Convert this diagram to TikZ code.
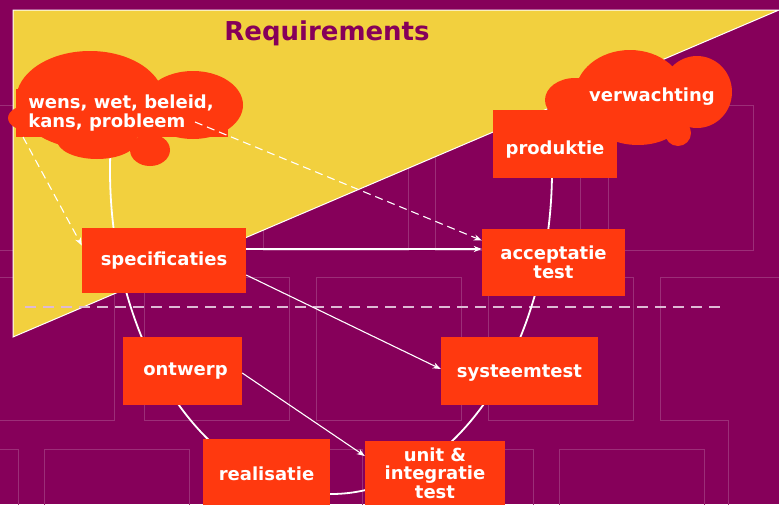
\documentclass[tikz,border=0pt]{standalone}
\usepackage{fontspec}
\setmainfont{DejaVu Sans}
\usetikzlibrary{arrows.meta}
\definecolor{bgp}{RGB}{134,0,90}
\definecolor{yel}{RGB}{242,208,62}
\definecolor{orng}{RGB}{255,57,15}
\definecolor{faint}{RGB}{156,46,120}
\definecolor{dashc}{RGB}{222,185,212}
\newcommand\boxfont{\bfseries\fontsize{18}{19.5}\selectfont}
\newcommand\lowertext[2]{\raisebox{-#1}[\height][\depth]{#2}}
\tikzset{
  stepbox/.style={fill=orng, text=white, font=\boxfont, inner sep=0pt, align=center},
  bgrect/.style={draw=faint, line width=0.9pt},
  flow/.style={draw=white, line width=1.1pt, -{Stealth[length=8pt,width=6pt,inset=2.5pt]}},
  dflow/.style={flow, dash pattern=on 8pt off 5pt},
  loopline/.style={draw=white, line width=1.8pt},
  cloudtext/.style={text=white, font=\boxfont, inner sep=0pt, align=left},
}
\begin{document}
\begin{tikzpicture}[x=1pt,y=-1pt]
\useasboundingbox (0,0) rectangle (779,504);
\fill[bgp] (0,0) rectangle (779,504);
% faint background rectangles
\foreach \a in {-82,91,263,435,608,780} \draw[bgrect] (\a,105) rectangle (\a+145,250);
\foreach \a in {-31,144,316,488} \draw[bgrect] (\a,277) rectangle (\a+145,420);
\draw[bgrect] (800,277) -- (660,277) -- (660,420) -- (728,420) -- (728,520);
\foreach \a in {-127,44,217,388,559} \draw[bgrect] (\a,449) rectangle (\a+145,594);
% requirements triangle
\fill[yel, draw=white, line width=1pt] (13,10) -- (779,10) -- (13,337) -- cycle;
\node[text=bgp, font=\bfseries\fontsize{26}{30}\selectfont, anchor=base] (title) at (327,40.7) {Requirements};
% dashed separator
\draw[dashc, line width=1.4pt, dash pattern=on 11pt off 7pt] (25,307) -- (725,307);
% life-cycle loop
\draw[loopline] (112.7,119.9) arc[start angle=171.1, end angle=368.9, x radius=221pt, y radius=324pt];
% left cloud
\begin{scope}[fill=orng]
\fill (90,100) ellipse [x radius=74pt, y radius=49pt];
\fill (193,105) ellipse [x radius=50pt, y radius=34pt];
\fill (30,118) ellipse [x radius=22pt, y radius=13pt];
\fill (97,140) ellipse [x radius=40pt, y radius=19pt];
\fill (150,150) ellipse [x radius=20pt, y radius=16pt];
\fill (16,89) rectangle (228,137);
% right cloud
\fill (630,95) ellipse [x radius=55pt, y radius=45pt];
\fill (697,92) ellipse [x radius=35pt, y radius=36pt];
\fill (575,100) ellipse [x radius=30pt, y radius=22pt];
\fill (638,118) ellipse [x radius=45pt, y radius=27pt];
\fill (678,133) ellipse [x radius=13pt, y radius=13pt];
\end{scope}
\node[cloudtext] (wens) at (121,113) {wens, wet, beleid,\\kans, probleem};
\node[cloudtext] (verw) at (652,97) {verwachting};
\coordinate (cl1) at (23,137);
\coordinate (cl2) at (195,122);
% boxes
\node[stepbox, minimum width=164pt, minimum height=65pt] (spec) at (164,260.5) {specificaties};
\node[stepbox, minimum width=143pt, minimum height=67pt] (acc) at (553.5,262.5) {acceptatie\\test};
\node[stepbox, minimum width=124pt, minimum height=68pt] (prod) at (555,144) {\lowertext{6pt}{produktie}};
\node[stepbox, minimum width=119pt, minimum height=68pt] (ont) at (182.5,371) {\hspace*{6pt}ontwerp};
\node[stepbox, minimum width=157pt, minimum height=68pt] (sys) at (519.5,371) {\lowertext{2pt}{systeemtest}};
\node[stepbox, minimum width=127pt, minimum height=70pt] (real) at (266.5,474) {realisatie};
\node[stepbox, minimum width=140pt, minimum height=64pt, font=\bfseries\fontsize{18}{18.5}\selectfont] (unit) at (435,473) {unit \&\\integratie\\test};
% connectors
\draw[dflow] (cl1) -- ([yshift=15pt]spec.west);
\draw[dflow] (cl2) -- ([yshift=22pt]acc.west);
\draw[flow] ([yshift=11.5pt]spec.east) -- ([yshift=13.5pt]acc.west);
\draw[flow] ([yshift=-14.5pt]spec.east) -- ([yshift=2pt]sys.west);
\draw[flow] ([yshift=-2pt]ont.east) -- ([yshift=17pt]unit.west);
\end{tikzpicture}
\end{document}
